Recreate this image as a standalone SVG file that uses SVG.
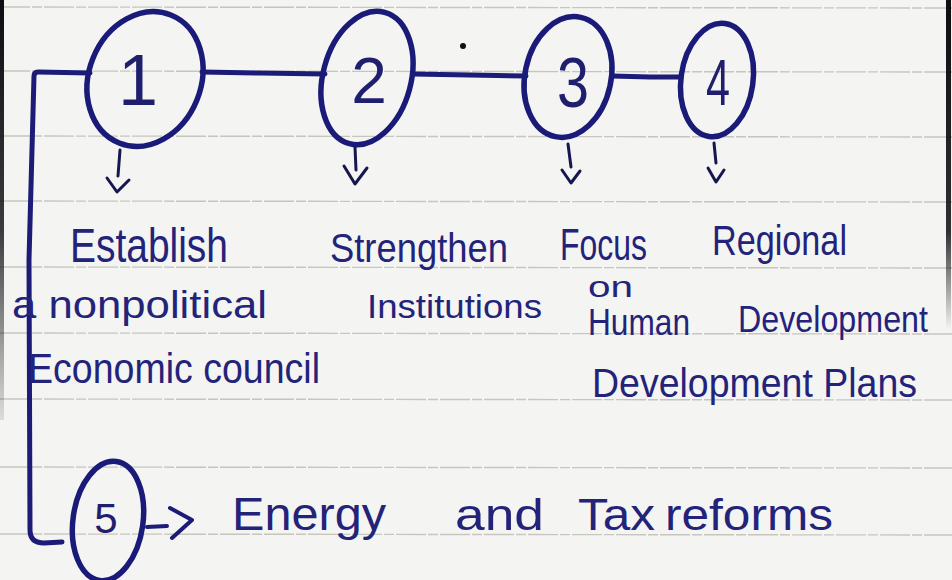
<svg xmlns="http://www.w3.org/2000/svg" width="952" height="580" viewBox="0 0 952 580">
  <defs>
    <linearGradient id="edgeL" x1="0" y1="0" x2="0" y2="1">
      <stop offset="0" stop-color="#0d0d12" stop-opacity="1"/>
      <stop offset="0.55" stop-color="#0d0d12" stop-opacity="0.8"/>
      <stop offset="1" stop-color="#0d0d12" stop-opacity="0.1"/>
    </linearGradient>
    <linearGradient id="edgeR" x1="0" y1="0" x2="0" y2="1">
      <stop offset="0" stop-color="#0d0d12" stop-opacity="1"/>
      <stop offset="0.7" stop-color="#0d0d12" stop-opacity="0.85"/>
      <stop offset="1" stop-color="#0d0d12" stop-opacity="0"/>
    </linearGradient>
  </defs>
  <style>
    .rule { stroke: #c6c6be; stroke-width: 1.4; stroke-dasharray: 30 2 10 2; fill: none; }
    .wire { stroke: #1c1c78; stroke-width: 5; fill: none; stroke-linecap: round; stroke-linejoin: round; }
    .tick { stroke: #17174f; stroke-width: 3; fill: none; stroke-linecap: round; stroke-linejoin: round; }
    .ring { stroke: #1a1a78; stroke-width: 5.5; fill: none; }
    .num { font-family: "Liberation Sans", Arial, sans-serif; fill: #1f1f6e; text-anchor: middle; }
    .note { font-family: "Liberation Sans", Arial, sans-serif; fill: #23237a; }
  </style>

  <!-- paper -->
  <rect x="0" y="0" width="952" height="580" fill="#f4f4f2"/>
  <g id="ruling">
    <line class="rule" x1="0" y1="7" x2="952" y2="8"/>
    <line class="rule" x1="0" y1="71" x2="952" y2="72"/>
    <line class="rule" x1="0" y1="136" x2="952" y2="137"/>
    <line class="rule" x1="0" y1="201" x2="952" y2="202"/>
    <line class="rule" x1="0" y1="267" x2="952" y2="268"/>
    <line class="rule" x1="0" y1="333" x2="952" y2="334"/>
    <line class="rule" x1="0" y1="399" x2="952" y2="400"/>
    <line class="rule" x1="0" y1="467" x2="952" y2="468"/>
    <line class="rule" x1="0" y1="534" x2="952" y2="535"/>
  </g>
  <rect x="0" y="0" width="4" height="420" fill="url(#edgeL)"/>
  <rect x="946" y="0" width="5" height="330" fill="url(#edgeR)"/>
  <circle cx="463" cy="46" r="3" fill="#111"/>

  <!-- connectors -->
  <g id="connectors">
    <path class="wire" d="M 90 73 L 38 72 Q 34 72 34 76 L 29 260 L 30 530 Q 30 543 44 543 L 62 542"/>
    <path class="wire" d="M 202 72 L 260 73 L 325 74"/>
    <path class="wire" d="M 413 74 L 470 75 L 526 76"/>
    <path class="wire" d="M 612 76 L 650 77 L 681 77"/>
    <!-- down ticks under nodes 1-4 -->
    <path class="tick" d="M 120 150 L 118 176 M 107 178 L 117 192 L 129 180"/>
    <path class="tick" d="M 355 147 L 356 170 M 344 166 L 355 184 L 367 168"/>
    <path class="tick" d="M 568 144 L 571 167 M 562 170 L 571 183 L 580 171"/>
    <path class="tick" d="M 714 143 L 716 163 M 708 168 L 716 182 L 724 170"/>
    <!-- node 5 pointer -->
    <path class="wire" style="stroke-width:4" d="M 147 527 L 167 526 M 170 508 L 192 520 L 172 538"/>
  </g>

  <g id="node1">
    <ellipse class="ring" cx="145" cy="79" rx="56" ry="69" transform="rotate(22 145 79)"/>
    <text class="num" x="138" y="105" font-size="72">1</text>
  </g>
  <g id="node2">
    <ellipse class="ring" cx="367" cy="78" rx="44" ry="68" transform="rotate(15 367 78)"/>
    <text class="num" x="369" y="103" font-size="64">2</text>
  </g>
  <g id="node3">
    <ellipse class="ring" cx="568" cy="77" rx="43" ry="61" transform="rotate(12 568 77)"/>
    <text class="num" x="573" y="107" font-size="70" textLength="32" lengthAdjust="spacingAndGlyphs">3</text>
  </g>
  <g id="node4">
    <ellipse class="ring" cx="717" cy="80" rx="36" ry="57" transform="rotate(8 717 80)"/>
    <text class="num" x="718" y="105" font-size="64" textLength="24" lengthAdjust="spacingAndGlyphs">4</text>
  </g>
  <g id="node5">
    <ellipse class="ring" cx="108" cy="521" rx="35" ry="60" transform="rotate(8 108 521)"/>
    <text class="num" x="106" y="533" font-size="42">5</text>
  </g>

  <g id="label1">
    <text class="note" x="70" y="262" font-size="48" textLength="158" lengthAdjust="spacingAndGlyphs">Establish</text>
    <text class="note" x="12" y="318" font-size="38" textLength="255" lengthAdjust="spacingAndGlyphs">a nonpolitical</text>
    <text class="note" x="28" y="383" font-size="42" textLength="292" lengthAdjust="spacingAndGlyphs">Economic council</text>
  </g>
  <g id="label2">
    <text class="note" x="330" y="262" font-size="40" textLength="178" lengthAdjust="spacingAndGlyphs">Strengthen</text>
    <text class="note" x="367" y="318" font-size="34" textLength="175" lengthAdjust="spacingAndGlyphs">Institutions</text>
  </g>
  <g id="label3">
    <text class="note" x="560" y="260" font-size="44" textLength="87" lengthAdjust="spacingAndGlyphs">Focus</text>
    <text class="note" x="588" y="297" font-size="30" textLength="45" lengthAdjust="spacingAndGlyphs">on</text>
    <text class="note" x="588" y="335" font-size="36" textLength="102" lengthAdjust="spacingAndGlyphs">Human</text>
    <text class="note" x="592" y="397" font-size="40" textLength="325" lengthAdjust="spacingAndGlyphs">Development Plans</text>
  </g>
  <g id="label4">
    <text class="note" x="738" y="332" font-size="36" textLength="190" lengthAdjust="spacingAndGlyphs">Development</text>
    <text class="note" x="712" y="255" font-size="42" textLength="135" lengthAdjust="spacingAndGlyphs">Regional</text>
  </g>
  <g id="label5">
    <text class="note" x="232" y="530" font-size="46" textLength="154" lengthAdjust="spacingAndGlyphs">Energy</text>
    <text class="note" x="455" y="530" font-size="44" textLength="89" lengthAdjust="spacingAndGlyphs">and</text>
    <text class="note" x="578" y="530" font-size="44" textLength="77" lengthAdjust="spacingAndGlyphs">Tax</text>
    <text class="note" x="665" y="530" font-size="44" textLength="168" lengthAdjust="spacingAndGlyphs">reforms</text>
  </g>
</svg>
